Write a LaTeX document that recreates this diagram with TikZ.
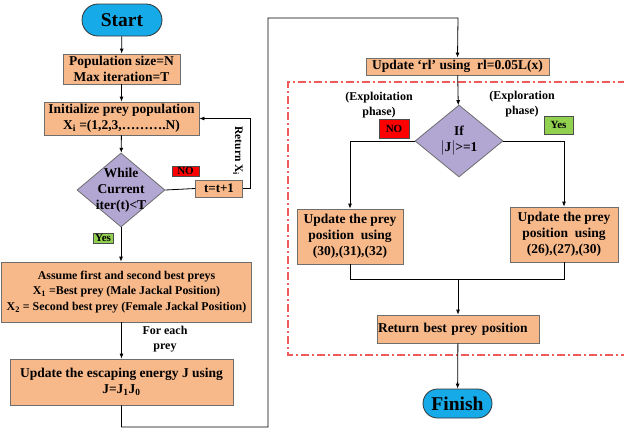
\documentclass[tikz,border=0pt]{standalone}
\usepackage{fontspec}
\setmainfont{Liberation Serif}
\usetikzlibrary{arrows.meta,shapes.geometric}
\definecolor{boxorange}{RGB}{247,184,138}
\definecolor{boxline}{RGB}{110,110,110}
\definecolor{termblue}{RGB}{22,170,232}
\definecolor{decpurple}{RGB}{178,166,210}
\definecolor{yesgreen}{RGB}{146,208,80}
\definecolor{frame}{RGB}{240,90,90}
\tikzset{
  proc/.style={draw=boxline,fill=boxorange,line width=0.8pt,align=center,inner sep=0pt,
    font=\fontsize{13.5}{16}\selectfont\bfseries},
  term/.style={draw=black!80,fill=termblue,line width=0.8pt,inner sep=0pt,
    font=\fontsize{19.5}{20}\selectfont\bfseries},
  decide/.style={diamond,draw=boxline,fill=decpurple,line width=0.8pt,inner sep=0pt},
  tag/.style={draw=black!70,line width=0.6pt,inner sep=0pt,
    font=\fontsize{11}{11}\selectfont\bfseries},
  note/.style={align=center,font=\fontsize{12}{15}\selectfont\bfseries},
  flow/.style={-{Latex[length=5pt,width=4pt]},line width=0.8pt},
  link/.style={line width=0.8pt}
}
\begin{document}
\begin{tikzpicture}[x=1pt,y=-1pt]
  \useasboundingbox (0,0) rectangle (624,431);
  \clip (0,0) rectangle (624,431);
  % Left column
  \node[term,rounded corners=16pt,minimum width=80pt,minimum height=32pt] (start) at (122,20) {Start};
  \node[proc,minimum width=117pt,minimum height=30pt] (pop) at (121.5,69) {Population size=N\\Max iteration=T};
  \node[proc,minimum width=155pt,minimum height=33pt] (init) at (121.5,118.5)
    {Initialize prey population\\X\textsubscript{i} =(1,2,3,……….N)};
  \node[decide,minimum width=88pt,minimum height=74pt,
    label={[note,font=\fontsize{13.5}{16}\selectfont\bfseries]center:While\\Current\\iter(t)<T}] (while) at (121,190) {};
  \node[tag,fill=red,minimum width=27pt,minimum height=10pt] (no1) at (185.5,171) {NO};
  \node[proc,minimum width=47pt,minimum height=17pt,font=\fontsize{13}{14}\selectfont\bfseries] (tinc) at (219,188.5) {t=t+1};
  \node[note,rotate=-90,font=\fontsize{11.5}{12}\selectfont\bfseries] (ret) at (238,151) {Return X\textsubscript{i}};
  \node[tag,fill=yesgreen,minimum width=20pt,minimum height=10pt] (yes1) at (103,238) {Yes};
  \node[proc,minimum width=250pt,minimum height=60pt,font=\fontsize{11.9}{15.5}\selectfont\bfseries] (best) at (126.5,292)
    {Assume first and second best preys\\X\textsubscript{1} =Best prey (Male Jackal Position)\\X\textsubscript{2} = Second best prey (Female Jackal Position)};
  \node[note] (each) at (165,339) {For each\\prey};
  \node[proc,minimum width=223pt,minimum height=46pt] (energy) at (121.5,382)
    {Update the escaping energy J using\\J=J\textsubscript{1}J\textsubscript{0}};
  \coordinate (b1) at (121.5,427);
  \coordinate (b2) at (268,427);
  \coordinate (b3) at (268,18);
  \coordinate (b4) at (458,18);
  \coordinate (r1) at (250,188.5);
  \coordinate (r2) at (250,118.5);
  % Right column
  \node[proc,minimum width=183pt,minimum height=17pt] (rl) at (457.5,66.5) {Update ‘rl’ using\ \ rl=0.05L(x)};
  \node[decide,minimum width=88pt,minimum height=72pt,
    label={[note,font=\fontsize{13.5}{16}\selectfont\bfseries]center:If\\$|$J$|$>=1}] (ifj) at (459,141) {};
  \node[note] (exploit) at (379,105) {(Exploitation\\phase)};
  \node[note] (explore) at (522,104) {(Exploration\\phase)};
  \node[tag,fill=red,minimum width=30pt,minimum height=19pt] (no2) at (394,128.5) {NO};
  \node[tag,fill=yesgreen,minimum width=29pt,minimum height=18pt] (yes2) at (558.5,125) {Yes};
  \node[proc,minimum width=106pt,minimum height=55pt] (upl) at (350,236.5) {Update the prey\\position\ \ using\\(30),(31),(32)};
  \node[proc,minimum width=108pt,minimum height=55pt] (upr) at (564,234.5) {Update the prey\\position\ \ using\\(26),(27),(30)};
  \node[proc,minimum width=162pt,minimum height=28pt,text width=160pt,align=left] (bestpos) at (458,329) {Return best prey position};
  \node[term,rounded corners=14.5pt,minimum width=69pt,minimum height=29pt] (finish) at (457.5,403.5) {Finish};
  \coordinate (m) at (458,279);
  % Frame
  \draw[frame,line width=1.2pt,dash pattern=on 8pt off 3pt on 2pt off 3pt] (626,82) -- (288,82) -- (288,355) -- (626,355);
  % Connectors
  \draw[flow] (start) -- (pop);
  \draw[flow] (pop) -- (init);
  \draw[flow] (init) -- (while);
  \draw[link] (while.east) -- (tinc.west);
  \draw[flow] (tinc.east) -- (r1) -- (r2) -- (init.east);
  \draw[flow] (while) -- (best.north -| while);
  \draw[flow] (best.south -| energy) -- (energy);
  \draw[flow] (energy.south) -- (b1) -- (b2) -- (b3) -- (b4) -- (rl.north);
  \draw[flow] (rl) -- (ifj);
  \draw[flow] (ifj.west) -| (upl.north);
  \draw[flow] (ifj.east) -| (upr.north);
  \draw[link] (upl.south) |- (m);
  \draw[link] (upr.south) |- (m);
  \draw[flow] (m) -- (bestpos.north);
  \draw[flow] (bestpos) -- (finish);
\end{tikzpicture}
\end{document}
